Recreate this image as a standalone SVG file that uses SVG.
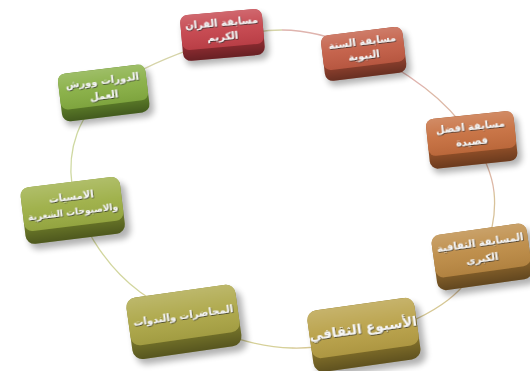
<svg xmlns="http://www.w3.org/2000/svg" width="530" height="371" viewBox="0 0 530 371">
<style>
  .conn { fill: none; stroke-width: 1.3; }
  .shadow { fill: #000; opacity: 0.3; filter: url(#blur); }
  .hl { fill: url(#faceHl); }
  .sd { fill: url(#sideSh); }
  .lbl { font-family: "DejaVu Sans", "Noto Sans", sans-serif; font-weight: bold; font-size: 10px; fill: #f6f6f6; text-anchor: middle; filter: url(#tsh); }
  .big { font-size: 13.5px; }
  .sm { font-size: 9px; }
</style>
<defs>
  <filter id="blur" x="-30%" y="-30%" width="160%" height="160%"><feGaussianBlur stdDeviation="3"/></filter>
  <filter id="tsh" x="-20%" y="-40%" width="140%" height="180%"><feDropShadow dx="0.6" dy="0.9" stdDeviation="0.5" flood-color="#2a2a2a" flood-opacity="0.85"/></filter>
  <linearGradient id="faceHl" x1="0" y1="0" x2="0" y2="1">
    <stop offset="0" stop-color="#fff" stop-opacity="0.2"/>
    <stop offset="0.5" stop-color="#fff" stop-opacity="0.05"/>
    <stop offset="1" stop-color="#000" stop-opacity="0.06"/>
  </linearGradient>
  <linearGradient id="sideSh" x1="0" y1="0" x2="0" y2="1">
    <stop offset="0.55" stop-color="#000" stop-opacity="0.05"/>
    <stop offset="1" stop-color="#000" stop-opacity="0.38"/>
  </linearGradient>
</defs>

<g id="connectors">
  <path class="conn" stroke="#dfb4ae" d="M282,30 C334.2,30 389.7,61 425,88"/>
  <path class="conn" stroke="#ddb8a6" d="M425,88 C460.3,115 490.2,156.7 494,192"/>
  <path class="conn" stroke="#d8c29a" d="M494,192 C497.8,227.3 481.7,274 448,300"/>
  <path class="conn" stroke="#d6c894" d="M448,300 C414.3,326 343.3,349.3 292,348"/>
  <path class="conn" stroke="#d6d098" d="M292,348 C240.7,346.7 176.7,319.2 140,292"/>
  <path class="conn" stroke="#d2d69e" d="M140,292 C103.3,264.8 76.7,219 72,185"/>
  <path class="conn" stroke="#cfd9a2" d="M72,185 C67.3,151 77,113.8 112,88"/>
  <path class="conn" stroke="#d6d4a8" d="M112,88 C147,62.2 229.8,30 282,30"/>
</g>

<g id="n1" transform="translate(222,29) rotate(-5)">
  <rect class="shadow" x="-39" y="-12" width="84" height="46" rx="8"/>
  <rect x="-41" y="-17" width="82" height="46" rx="8" fill="#a8343a"/>
  <rect class="sd" x="-41" y="-17" width="82" height="46" rx="8"/>
  <rect x="-41" y="-17" width="82" height="35" rx="7" fill="#c4424a"/>
  <rect class="hl" x="-41" y="-17" width="82" height="35" rx="7"/>
  <text class="lbl" x="0" y="-3" direction="rtl">مسابقة القران</text>
  <text class="lbl" x="0" y="11" direction="rtl">الكريم</text>
</g>

<g id="n2" transform="translate(363,48) rotate(-7)">
  <rect class="shadow" x="-39" y="-12" width="84" height="46" rx="8"/>
  <rect x="-41" y="-17" width="82" height="46" rx="8" fill="#a84c36"/>
  <rect class="sd" x="-41" y="-17" width="82" height="46" rx="8"/>
  <rect x="-41" y="-17" width="82" height="35" rx="7" fill="#c25c44"/>
  <rect class="hl" x="-41" y="-17" width="82" height="35" rx="7"/>
  <text class="lbl" x="0" y="-3" direction="rtl">مسابقة السنة</text>
  <text class="lbl" x="0" y="11" direction="rtl">النبوية</text>
</g>

<g id="n3" transform="translate(471,133) rotate(-6)">
  <rect class="shadow" x="-42" y="-13" width="90" height="50" rx="8"/>
  <rect x="-44" y="-18" width="88" height="50" rx="8" fill="#ac5e30"/>
  <rect class="sd" x="-44" y="-18" width="88" height="50" rx="8"/>
  <rect x="-44" y="-18" width="88" height="37" rx="7" fill="#c66e3e"/>
  <rect class="hl" x="-44" y="-18" width="88" height="37" rx="7"/>
  <text class="lbl" x="0" y="-3" direction="rtl">مسابقة افضل</text>
  <text class="lbl" x="0" y="12" direction="rtl">قصيدة</text>
</g>

<g id="n4" transform="translate(481,250) rotate(-8)">
  <rect class="shadow" x="-45" y="-15" width="98" height="56" rx="9"/>
  <rect x="-48" y="-21" width="96" height="56" rx="9" fill="#9e7232"/>
  <rect class="sd" x="-48" y="-21" width="96" height="56" rx="9"/>
  <rect x="-48" y="-21" width="96" height="43" rx="8" fill="#bc8a44"/>
  <rect class="hl" x="-48" y="-21" width="96" height="43" rx="8"/>
  <text class="lbl" x="0" y="-4" direction="rtl">المسابقة الثقافية</text>
  <text class="lbl" x="0" y="12" direction="rtl">الكبرى</text>
</g>

<g id="n5" transform="translate(363,328) rotate(-8)">
  <rect class="shadow" x="-51" y="-18" width="110" height="62" rx="10"/>
  <rect x="-54" y="-24" width="108" height="62" rx="10" fill="#9a8432"/>
  <rect class="sd" x="-54" y="-24" width="108" height="62" rx="10"/>
  <rect x="-54" y="-24" width="108" height="48" rx="9" fill="#b8a046"/>
  <rect class="hl" x="-54" y="-24" width="108" height="48" rx="9"/>
  <text class="lbl big" x="0" y="5" direction="rtl">الأسبوع الثقافي</text>
</g>

<g id="n6" transform="translate(183,315) rotate(-8)">
  <rect class="shadow" x="-52" y="-18" width="112" height="62" rx="10"/>
  <rect x="-55" y="-24" width="110" height="62" rx="10" fill="#8c8a32"/>
  <rect class="sd" x="-55" y="-24" width="110" height="62" rx="10"/>
  <rect x="-55" y="-24" width="110" height="48" rx="9" fill="#aca646"/>
  <rect class="hl" x="-55" y="-24" width="110" height="48" rx="9"/>
  <text class="lbl" x="0" y="4" direction="rtl">المحاضرات والندوات</text>
</g>

<g id="n7" transform="translate(72,204) rotate(-7)">
  <rect class="shadow" x="-47" y="-16" width="102" height="57" rx="9"/>
  <rect x="-50" y="-22" width="100" height="57" rx="9" fill="#7e8e30"/>
  <rect class="sd" x="-50" y="-22" width="100" height="57" rx="9"/>
  <rect x="-50" y="-22" width="100" height="44" rx="8" fill="#9cae44"/>
  <rect class="hl" x="-50" y="-22" width="100" height="44" rx="8"/>
  <text class="lbl" x="0" y="-4" direction="rtl">الامسيات</text>
  <text class="lbl sm" x="0" y="11" direction="rtl">والاصبوحات الشعرية</text>
</g>

<g id="n8" transform="translate(103,87) rotate(-7)">
  <rect class="shadow" x="-42" y="-13" width="90" height="48" rx="8"/>
  <rect x="-44" y="-18" width="88" height="48" rx="8" fill="#6c9230"/>
  <rect class="sd" x="-44" y="-18" width="88" height="48" rx="8"/>
  <rect x="-44" y="-18" width="88" height="36" rx="7" fill="#86ae42"/>
  <rect class="hl" x="-44" y="-18" width="88" height="36" rx="7"/>
  <text class="lbl" x="0" y="-3" direction="rtl">الدورات وورش</text>
  <text class="lbl" x="0" y="12" direction="rtl">العمل</text>
</g>
</svg>
